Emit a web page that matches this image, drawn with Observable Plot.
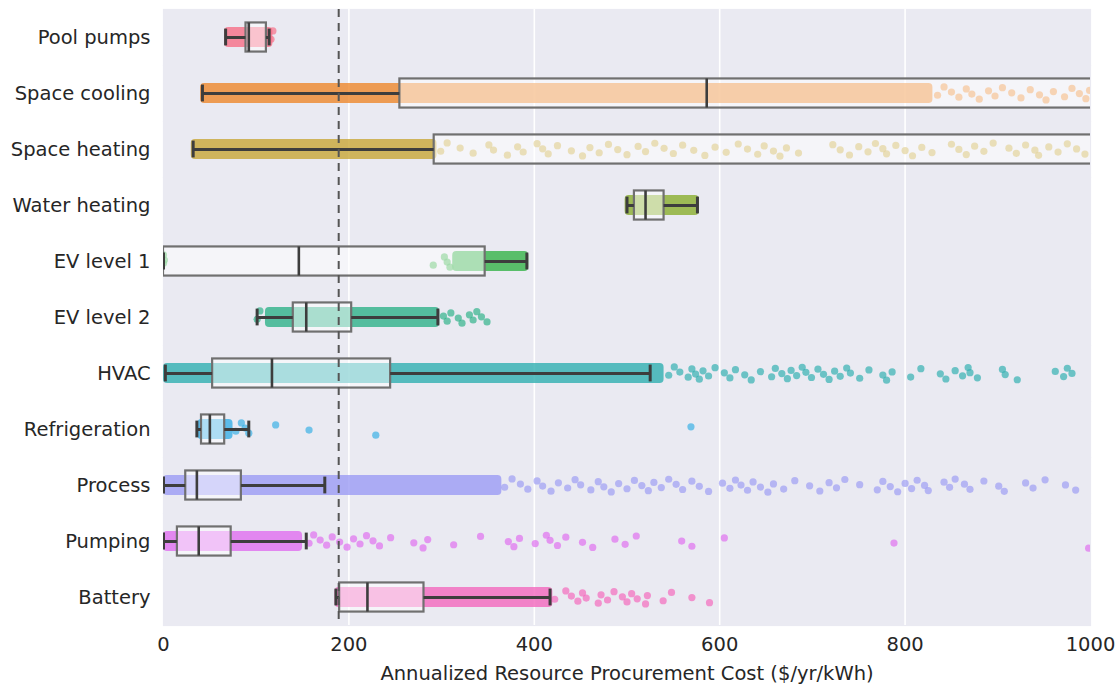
<!DOCTYPE html>
<html><head><meta charset="utf-8">
<script src="https://cdn.jsdelivr.net/npm/d3@7"></script>
<script src="https://cdn.jsdelivr.net/npm/@observablehq/plot@0.6"></script>
<style>body{margin:0;background:#fff;}</style>
</head><body><div id="chart"></div>
<script>
// ---- data ----
const categories = ["Pool pumps","Space cooling","Space heating","Water heating","EV level 1","EV level 2","HVAC","Refrigeration","Process","Pumping","Battery"];
const colors = ["#f77189","#ee8a2f","#c9a83a","#8cb032","#39b54c","#33b38b","#35b1b2","#3cb1e6","#9e9ef4","#e071ef","#f36bbe"];

// box plot statistics ($/yr/kWh)
const whiskerLow  = [67, 42, 32, 500, 0, 101, 2, 36, 0, 0, 186];
const q1          = [89, 255, 292, 508, 0, 140, 53, 41, 24, 15, 190];
const median      = [92, 586, 1150, 520, 146, 154, 117, 50, 36, 38, 220];
const q3          = [111, 1400, 1500, 540, 347, 203, 245, 66, 84, 73, 281];
const whiskerHigh = [114, 2000, 2000, 576, 392, 296, 525, 92, 174, 154, 417];

// ranges where the strip points overlap into a solid cloud
const denseFrom = [66, 40, 30, 498, 312, 110, 0, 37, 0, 0, 185];
const denseTo   = [118, 830, 295, 578, 394, 298, 540, 75, 365, 150, 420];

// individual visible points outside the dense clouds
const poolPumpsPts = [116, 118];
const spaceCoolingPts = [835, 842, 850, 858, 866, 872, 880, 890, 897, 905, 915, 925, 935, 945, 952, 960, 972, 980, 988, 995, 999];
const spaceHeatingPts = [299, 306, 320, 334, 351, 356, 371, 382, 388, 403, 409, 415, 425, 440, 452, 460, 470, 480, 490, 500, 512, 520, 530, 540, 550, 560, 572, 584, 595, 607, 620, 630, 641, 648, 658, 665, 672, 685, 722, 730, 740, 750, 760, 768, 776, 780, 790, 800, 808, 818, 829, 850, 858, 866, 875, 885, 895, 912, 920, 930, 940, 944, 955, 965, 975, 985, 994];
const waterHeatingPts = [];
const evLevel1Pts = [0, 0, 1, 291, 303, 306, 309];
const evLevel2Pts = [101, 104, 302, 306, 310, 318, 322, 330, 334, 338, 343, 349];
const hvacPts = [545, 551, 557, 566, 570, 574, 578, 582, 588, 595, 605, 611, 617, 627, 634, 644, 656, 660, 667, 673, 677, 683, 689, 693, 699, 706, 712, 718, 724, 730, 737, 741, 751, 761, 776, 780, 786, 806, 817, 838, 844, 854, 862, 868, 870, 878, 905, 908, 921, 962, 971, 975, 980];
const refrigerationPts = [78, 84, 88, 92, 121, 157, 229, 569];
const processPts = [368, 376, 385, 393, 403, 409, 418, 426, 436, 444, 450, 461, 469, 475, 483, 491, 500, 508, 516, 523, 529, 537, 545, 553, 560, 570, 578, 588, 603, 611, 617, 623, 630, 636, 644, 652, 658, 669, 681, 697, 708, 718, 726, 735, 751, 770, 776, 784, 792, 800, 807, 813, 821, 825, 842, 848, 854, 864, 870, 885, 901, 907, 930, 938, 951, 973, 984];
const pumpingPts = [157, 162, 169, 176, 182, 190, 198, 205, 212, 219, 226, 233, 245, 270, 280, 285, 313, 342, 372, 378, 384, 401, 413, 417, 425, 434, 452, 463, 487, 498, 510, 559, 570, 605, 788, 998];
const batteryPts = [422, 434, 440, 447, 452, 456, 469, 472, 479, 486, 495, 500, 505, 511, 520, 522, 539, 548, 570, 589];
const sparsePoints = [poolPumpsPts, spaceCoolingPts, spaceHeatingPts, waterHeatingPts, evLevel1Pts, evLevel2Pts, hvacPts, refrigerationPts, processPts, pumpingPts, batteryPts];

const threshold = 189;
const xTicks = [0, 200, 400, 600, 800, 1000];

// ---- build tables ----
const boxes = categories.map((c, i) => ({cat: c, lo: whiskerLow[i], q1: q1[i], med: median[i], q3: q3[i], hi: whiskerHigh[i]}));
const bands = categories.map((c, i) => ({cat: c, from: denseFrom[i], to: denseTo[i]}));
function jitter(k) { const f = (k * 0.6180339887 + 0.37) % 1; return (f * 2 - 1) * 0.24; }
const pts = [];
sparsePoints.forEach((arr, i) => arr.forEach((v, k) => pts.push({cat: categories[i], x: v, j: jitter(k)})));

const dark = "#3d3d3d";
const chart = Plot.plot({
  width: 1118, height: 685,
  marginLeft: 163, marginRight: 28, marginTop: 9, marginBottom: 60,
  style: {fontFamily: "DejaVu Sans", fontSize: "19.5px", color: "#262626", background: "#fff"},
  x: {domain: [0, 1000]},
  y: {domain: [-1, 1], axis: null},
  fy: {domain: categories, padding: 0},
  color: {domain: categories, range: colors},
  marks: [
    Plot.frame({fill: "#EAEAF2", stroke: "#EAEAF2", strokeWidth: 1.2}),
    Plot.gridX({ticks: [200, 400, 600, 800], stroke: "#fff", strokeOpacity: 1, strokeWidth: 1.6}),
    Plot.rect(bands, {fy: "cat", x1: "from", x2: "to", y1: -0.36, y2: 0.36, fill: "cat", fillOpacity: 0.82, rx: 4, clip: true}),
    Plot.dot(pts, {fy: "cat", x: "x", y: "j", r: 3.6, fill: "cat", fillOpacity: 0.7, stroke: null, clip: true}),
    Plot.rect(boxes, {fy: "cat", x1: "q1", x2: "q3", y1: -0.52, y2: 0.52, fill: "#fff", fillOpacity: 0.5, stroke: "#707070", strokeWidth: 2.2, clip: true}),
    Plot.ruleY(boxes, {fy: "cat", x1: "lo", x2: "q1", y: 0, stroke: dark, strokeWidth: 3, clip: true}),
    Plot.ruleY(boxes, {fy: "cat", x1: "q3", x2: "hi", y: 0, stroke: dark, strokeWidth: 3, clip: true}),
    Plot.ruleX(boxes, {fy: "cat", x: "lo", y1: -0.3, y2: 0.3, stroke: dark, strokeWidth: 3, clip: true}),
    Plot.ruleX(boxes, {fy: "cat", x: "hi", y1: -0.3, y2: 0.3, stroke: dark, strokeWidth: 3, clip: true}),
    Plot.ruleX(boxes, {fy: "cat", x: "med", y1: -0.52, y2: 0.52, stroke: dark, strokeWidth: 2.6, clip: true}),
    Plot.ruleX([threshold], {stroke: "#555", strokeWidth: 2, strokeDasharray: "8,6"}),
    Plot.axisX({ticks: xTicks, tickFormat: d => String(d), tickSize: 0, tickPadding: 12, label: "Annualized Resource Procurement Cost ($/yr/kWh)", labelAnchor: "center", labelArrow: "none", labelOffset: 54}),
    Plot.axisFy({anchor: "left", tickSize: 0, tickPadding: 13, label: null})
  ]
});
document.getElementById("chart").appendChild(chart);
</script>
</body></html>
